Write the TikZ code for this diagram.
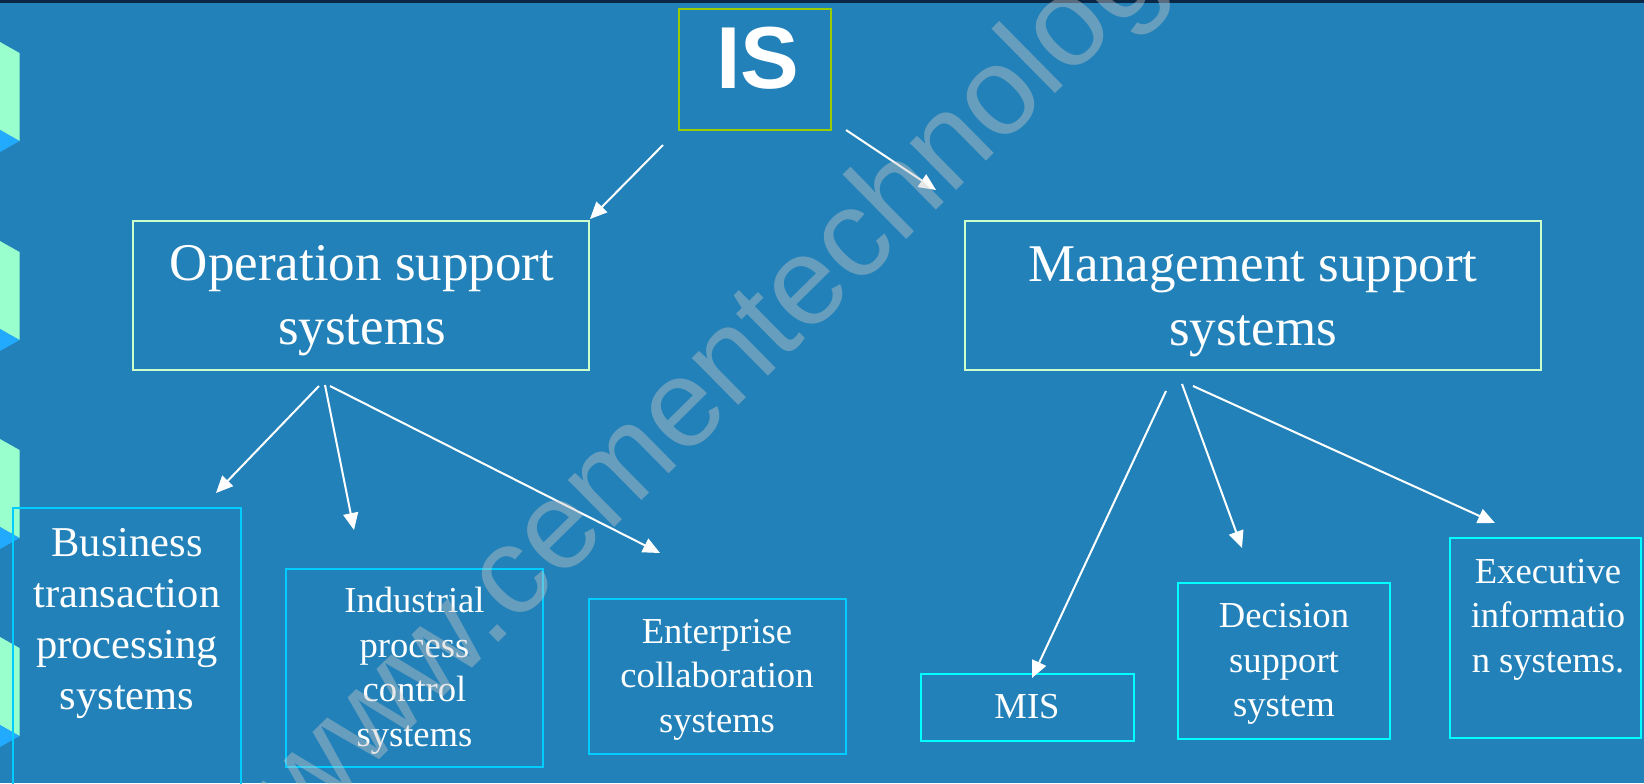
\documentclass[tikz,border=0pt]{standalone}
\usepackage{fontspec}
\setmainfont{Liberation Serif}
\newfontfamily\sansfam{Liberation Sans}
\usetikzlibrary{arrows.meta}
\definecolor{bg}{RGB}{34,129,184}
\definecolor{band}{RGB}{10,40,70}
\definecolor{decogreen}{RGB}{153,255,204}
\definecolor{decoblue}{RGB}{34,170,255}
\definecolor{isborder}{RGB}{153,204,0}
\definecolor{topborder}{RGB}{204,255,204}
\definecolor{lowborder}{RGB}{0,204,255}
\definecolor{cyanborder}{RGB}{0,255,255}
\definecolor{wmgray}{RGB}{200,200,200}
\begin{document}
\begin{tikzpicture}[x=0.5pt,y=-0.5pt,
  box/.style={draw, rectangle, inner sep=0pt, fill=none},
  topbox/.style={box, draw=topborder, line width=1pt},
  lowbox/.style={box, draw=lowborder, line width=1.2pt},
  cybox/.style={box, draw=cyanborder, line width=1.2pt},
  bigtxt/.style={text=white, align=center, inner sep=0pt, font=\fontsize{26.5}{32}\selectfont},
  midtxt/.style={text=white, align=center, inner sep=0pt, font=\fontsize{21.25}{25.5}\selectfont},
  smalltxt/.style={text=white, align=center, inner sep=0pt, font=\fontsize{18.3}{22.25}\selectfont},
  arr/.style={draw=white, line width=1pt, -{Triangle[length=8.5pt,width=7.5pt]}},
  wm/.style={text=wmgray, text opacity=0.42, inner sep=0pt, font=\sansfam\fontsize{62.5}{62.5}\selectfont}
]
\useasboundingbox (0,0) rectangle (1644,783);
\clip (0,0) rectangle (1644,783);
\fill[bg] (0,0) rectangle (1644,783);
\fill[band] (0,0) rectangle (1644,3);
% left decorations
\foreach \yy in {42,241,439,637}{
  \fill[decogreen] (0,\yy) -- (19.5,\yy+11) -- (19.5,\yy+99) -- (0,\yy+88) -- cycle;
  \fill[decoblue] (0,\yy+88) -- (19.5,\yy+99) -- (0,\yy+110) -- cycle;
}
% boxes
\node[box, draw=isborder, line width=1pt, minimum width=76pt, minimum height=60.5pt] (IS) at (755,69.5) {};
\node[topbox, minimum width=228pt, minimum height=74.5pt] (OSS) at (361,295.5) {};
\node[topbox, minimum width=288pt, minimum height=74.5pt] (MSS) at (1253,295.5) {};
\node[lowbox, minimum width=114pt, minimum height=156pt] (BTP) at (127,664) {};
\node[lowbox, minimum width=128.5pt, minimum height=99pt] (IPC) at (414.5,668) {};
\node[lowbox, minimum width=128.5pt, minimum height=77.5pt] (ECS) at (717.5,676.5) {};
\node[cybox, minimum width=106.5pt, minimum height=33.5pt] (MIS) at (1027.5,707.5) {};
\node[cybox, minimum width=106pt, minimum height=78pt] (DSS) at (1284,661) {};
\node[cybox, minimum width=95.5pt, minimum height=100pt] (EIS) at (1545.5,638) {};
% texts
\node[text=white, inner sep=0pt, font=\sansfam\bfseries\fontsize{44}{44}\selectfont] (IStxt) at (758,58.5) {IS};
\node[bigtxt] (OSStxt) at (362,300.5) {Operation support\\systems};
\node[bigtxt] (MSStxt) at (1253,301.5) {Management support\\systems};
\node[midtxt] (BTPtxt) at (127,623.5) {Business\\transaction\\processing\\systems};
\node[smalltxt] (IPCtxt) at (414.5,670.5) {Industrial\\process\\control\\systems};
\node[smalltxt] (ECStxt) at (717,679.5) {Enterprise\\collaboration\\systems};
\node[smalltxt] (MIStxt) at (1027,707) {MIS};
\node[smalltxt] (DSStxt) at (1284,664) {Decision\\support\\system};
\node[smalltxt] (EIStxt) at (1548,619.5) {Executive\\informatio\\n systems.};
% arrow end points
\coordinate (a1s) at (663,145); \coordinate (a1e) at (590,219);
\coordinate (a2s) at (846,130); \coordinate (a2e) at (936,190);
\coordinate (a3s) at (319,386); \coordinate (a3e) at (216,493);
\coordinate (a4s) at (325,385); \coordinate (a4e) at (354,530);
\coordinate (a5s) at (330,386); \coordinate (a5e) at (660,553);
\coordinate (a6s) at (1166,391); \coordinate (a6e) at (1032,678);
\coordinate (a7s) at (1182,384); \coordinate (a7e) at (1242,548);
\coordinate (a8s) at (1193,386); \coordinate (a8e) at (1495,523);
\draw[arr] (a1s) -- (a1e);
\draw[arr] (a2s) -- (a2e);
\draw[arr] (a3s) -- (a3e);
\draw[arr] (a4s) -- (a4e);
\draw[arr] (a5s) -- (a5e);
\draw[arr] (a6s) -- (a6e);
\draw[arr] (a7s) -- (a7e);
\draw[arr] (a8s) -- (a8e);
% watermark
\node[wm, rotate=44.6, anchor=base west] (WM) at (302,836) {www.cementechnology};
\end{tikzpicture}
\end{document}
